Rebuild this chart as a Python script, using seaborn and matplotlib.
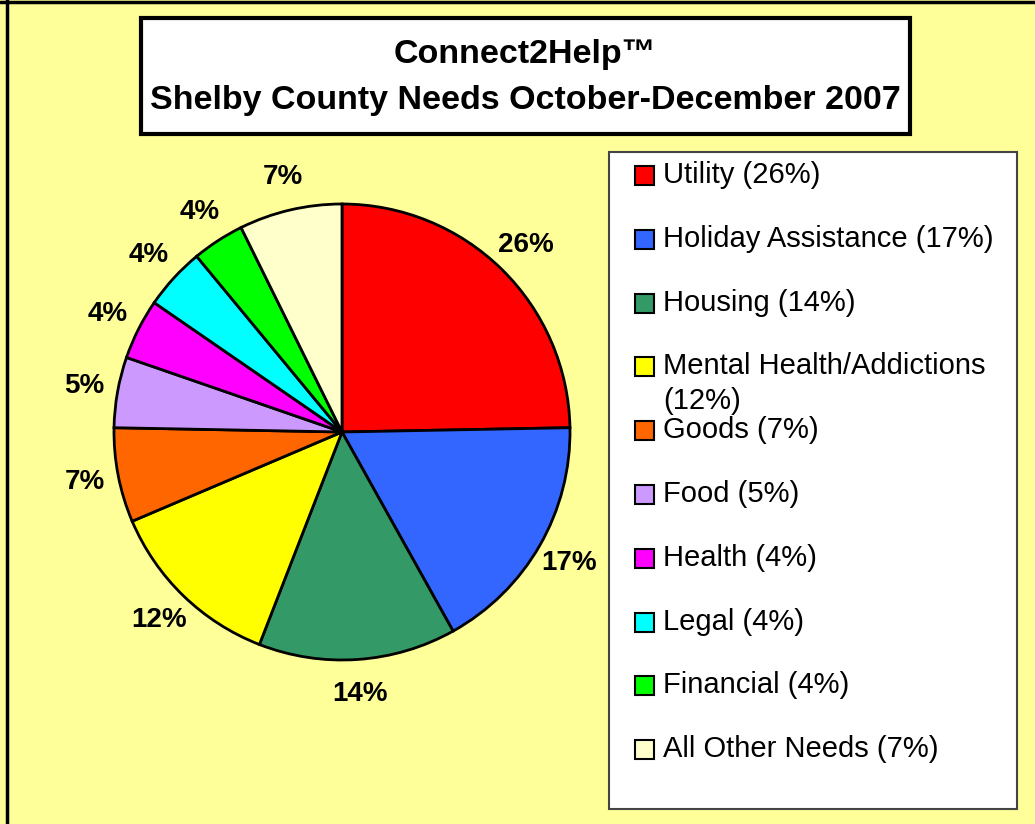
import matplotlib
matplotlib.use("Agg")
import matplotlib.pyplot as plt
from matplotlib.patches import Rectangle
from matplotlib.lines import Line2D
import seaborn as sns

# Data read from the chart (slice sizes measured from the wedge angles,
# label text as printed on the chart)
categories = ["Utility", "Holiday Assistance", "Housing", "Mental Health/Addictions",
              "Goods", "Food", "Health", "Legal", "Financial", "All Other Needs"]
slice_share = [24.7, 17.2, 14.0, 12.7, 6.7, 5.0, 4.3, 4.4, 3.7, 7.3]
pct_labels = ["26%", "17%", "14%", "12%", "7%", "5%", "4%", "4%", "4%", "7%"]
legend_labels = ["Utility (26%)", "Holiday Assistance (17%)", "Housing (14%)",
                 "Mental Health/Addictions\n(12%)", "Goods (7%)", "Food (5%)",
                 "Health (4%)", "Legal (4%)", "Financial (4%)", "All Other Needs (7%)"]
slice_colors = ["#FF0000", "#3366FF", "#339966", "#FFFF00", "#FF6600",
                "#CC99FF", "#FF00FF", "#00FFFF", "#00FF00", "#FFFFCC"]

sns.set_style("white")
plt.rcParams["font.family"] = ["Liberation Sans", "DejaVu Sans"]
plt.rcParams["text.color"] = "black"
palette = sns.color_palette(slice_colors)

W, H = 1035, 824
fig = plt.figure(figsize=(W / 100, H / 100), dpi=100)
fig.patch.set_facecolor("#FFFF99")

def fx(px):
    return px / W

def fy(py):
    return 1 - py / H

# outer frame (top / left edges visible in the original)
fig.add_artist(Line2D([0, 1], [fy(1.5), fy(1.5)], color="black", lw=2.5))
fig.add_artist(Line2D([fx(6.5), fx(6.5)], [0, 1], color="black", lw=2.5))

# title box
fig.add_artist(Rectangle((fx(141), fy(134)), fx(910) - fx(141), fy(18) - fy(134),
                         facecolor="white", edgecolor="black", lw=3))
fig.text(fx(525), fy(54), "Connect2Help™", ha="center", va="center",
         fontsize=24.5, fontweight="bold")
fig.text(fx(525), fy(100), "Shelby County Needs October-December 2007",
         ha="center", va="center", fontsize=24.5, fontweight="bold")

# pie
cx, cy, r = 342, 432, 228
ax = fig.add_axes([fx(cx - r), fy(cy + r), 2 * r / W, 2 * r / H])
ax.pie(slice_share, colors=palette, startangle=90, counterclock=False,
       labels=pct_labels, labeldistance=1.15,
       wedgeprops=dict(edgecolor="black", linewidth=2),
       textprops=dict(fontsize=20, fontweight="bold", ha="center", va="center"))
ax.set_xlim(-1, 1)
ax.set_ylim(-1, 1)
ax.set_axis_off()

# legend box drawn by hand to keep the original spacing
fig.add_artist(Rectangle((fx(609), fy(809)), fx(1017) - fx(609), fy(152) - fy(809),
                         facecolor="white", edgecolor="#444444", lw=1.5))
y0, step = 175, 63.8
for i, (lab, col) in enumerate(zip(legend_labels, palette)):
    yy = y0 + i * step
    fig.add_artist(Rectangle((fx(635), fy(yy + 10)), fx(19), 19 / H,
                             facecolor=col, edgecolor="black", lw=1.5))
    if "\n" in lab:
        first, second = lab.split("\n")
        fig.text(fx(663), fy(yy), first, ha="left", va="center", fontsize=21)
        fig.text(fx(663), fy(yy + 35), second, ha="left", va="center", fontsize=21)
    else:
        fig.text(fx(663), fy(yy), lab, ha="left", va="center", fontsize=21)

fig.savefig("out.png", dpi=100, facecolor=fig.get_facecolor())
